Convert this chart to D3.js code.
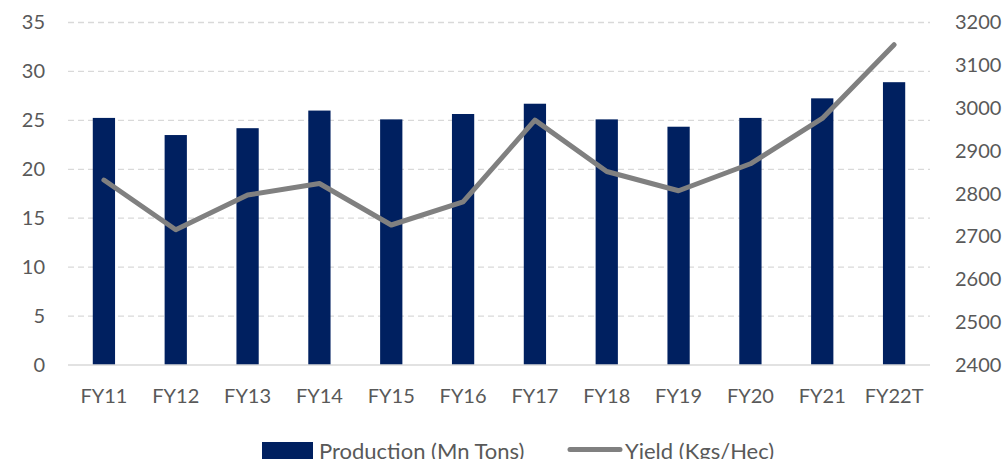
<!DOCTYPE html>
<html><head><meta charset="utf-8">
<script src="https://cdn.jsdelivr.net/npm/d3@7"></script>
<style>body{margin:0;background:#fff}svg{display:block}text{font-family:Lato,"Open Sans",sans-serif;fill:#595959}</style>
</head><body><svg id="c" width="1007" height="459"></svg>
<script>
const categories = ["FY11","FY12","FY13","FY14","FY15","FY16","FY17","FY18","FY19","FY20","FY21","FY22T"];
const production = [25.25,23.5,24.2,26.0,25.1,25.65,26.7,25.1,24.35,25.25,27.25,28.9];
const yieldVals = [2832,2716,2797,2824,2727,2781,2972,2852,2807,2870,2976,3148];
const leftTicks = [0,5,10,15,20,25,30,35];
const rightTicks = [2400,2500,2600,2700,2800,2900,3000,3100,3200];

const svg = d3.select("#c");
const L = 68, R = 930, T = 22.5, B = 365;
const x = d3.scaleBand().domain(categories).range([L,R]).paddingInner(0.69).paddingOuter(0.345);
const xc = d => x(d) + x.bandwidth()/2;
const yL = d3.scaleLinear().domain([0,35]).range([B,T]);
const yR = d3.scaleLinear().domain([2400,3200]).range([B,T]);

// gridlines
svg.append("g").selectAll("line").data(leftTicks.filter(d=>d>0)).join("line")
  .attr("x1",L).attr("x2",R).attr("y1",d=>yL(d)).attr("y2",d=>yL(d))
  .attr("stroke","#d9d9d9").attr("stroke-width",1.3).attr("stroke-dasharray","6,4");

// bars
svg.append("g").selectAll("rect").data(categories).join("rect")
  .attr("x",d=>x(d)).attr("width",x.bandwidth())
  .attr("y",(d,i)=>yL(production[i])).attr("height",(d,i)=>B-yL(production[i]))
  .attr("fill","#002060");

// baseline
svg.append("line").attr("x1",L).attr("x2",R).attr("y1",B).attr("y2",B).attr("stroke","#d9d9d9").attr("stroke-width",1.3);

// yield line
const line = d3.line().x((d,i)=>xc(categories[i])).y(d=>yR(d));
svg.append("path").datum(yieldVals).attr("d",line).attr("fill","none")
  .attr("stroke","#808080").attr("stroke-width",5).attr("stroke-linejoin","round").attr("stroke-linecap","round");

// left axis
const axL = d3.axisLeft(yL).tickValues(leftTicks).tickSize(0).tickPadding(0);
const gL = svg.append("g").attr("transform",`translate(45,0)`).call(axL);
gL.select(".domain").remove();
gL.selectAll("text").attr("font-size",20).style("fill","#595959").attr("font-family","Lato");

// right axis
const axR = d3.axisRight(yR).tickValues(rightTicks).tickFormat(d3.format("d")).tickSize(0).tickPadding(0);
const gR = svg.append("g").attr("transform",`translate(955,0)`).call(axR);
gR.select(".domain").remove();
gR.selectAll("text").attr("font-size",20).style("fill","#595959").attr("font-family","Lato");

// x axis
const axX = d3.axisBottom(x).tickSize(0).tickPadding(0);
const gX = svg.append("g").attr("transform",`translate(0,${B+31})`).call(axX);
gX.select(".domain").remove();
gX.selectAll("text").attr("font-size",20).style("fill","#595959").attr("font-family","Lato").attr("dy","0.35em").attr("y",0);

// legend
const lg = svg.append("g");
lg.append("rect").attr("x",262).attr("y",442).attr("width",51).attr("height",17).attr("fill","#002060");
lg.append("text").attr("x",319).attr("y",451).attr("dy","0.35em").attr("font-size",22).text("Production (Mn Tons)");
lg.append("line").attr("x1",570).attr("x2",620).attr("y1",449.5).attr("y2",449.5).attr("stroke","#808080").attr("stroke-width",5).attr("stroke-linecap","round");
lg.append("text").attr("x",625).attr("y",451).attr("dy","0.35em").attr("font-size",22).text("Yield (Kgs/Hec)");
</script></body></html>
